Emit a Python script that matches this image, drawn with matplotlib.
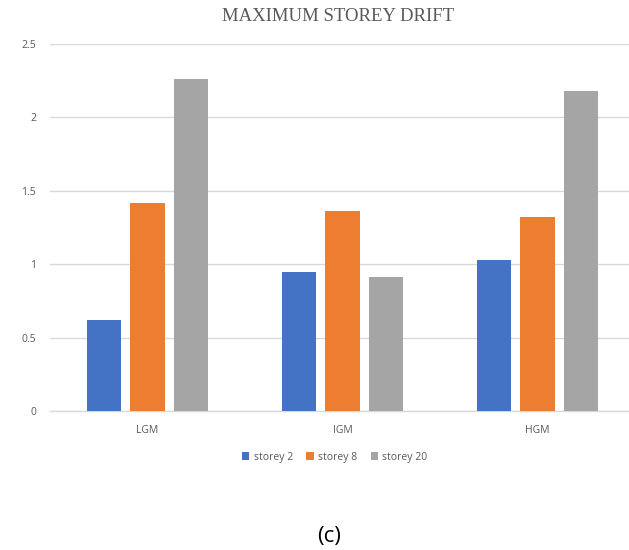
import numpy as np
import matplotlib
matplotlib.use("Agg")
import matplotlib.pyplot as plt
from matplotlib.patches import Patch

categories = ["LGM", "IGM", "HGM"]
series_names = ["storey 2", "storey 8", "storey 20"]
storey_2 = [0.62, 0.95, 1.03]
storey_8 = [1.415, 1.36, 1.32]
storey_20 = [2.26, 0.91, 2.18]
y_ticks = [0, 0.5, 1, 1.5, 2, 2.5]
y_tick_labels = ["0", "0.5", "1", "1.5", "2", "2.5"]

colors = ["#4472C4", "#ED7D31", "#A5A5A5"]
text_gray = "#595959"
grid_gray = "#D9D9D9"

fig = plt.figure(figsize=(6.29, 5.50), dpi=100)
ax = fig.add_axes([0.0795, 0.2527, 0.930, 0.6673])

x = np.arange(len(categories))
bar_w = 0.176
step = 0.223
for i, (vals, col) in enumerate(zip([storey_2, storey_8, storey_20], colors)):
    ax.bar(x + (i - 1) * step, vals, width=bar_w, color=col, zorder=3)

ax.set_xlim(-0.5, 2.5)
ax.set_ylim(0, 2.5)
ax.set_yticks(y_ticks)
ax.set_yticklabels(y_tick_labels)
ax.set_xticks(x)
ax.set_xticklabels(categories)
ax.tick_params(axis="both", length=0, colors=text_gray, labelsize=7.5)
ax.tick_params(axis="y", pad=10)
ax.tick_params(axis="x", pad=10)
for lbl in ax.get_xticklabels() + ax.get_yticklabels():
    lbl.set_fontfamily("Open Sans")
ax.grid(axis="y", color=grid_gray, linewidth=1.0, zorder=0)
for side in ["top", "right", "left"]:
    ax.spines[side].set_visible(False)
ax.spines["bottom"].set_color(grid_gray)
ax.spines["bottom"].set_linewidth(1.0)

fig.text(0.537, 0.970, "MAXIMUM STOREY DRIFT", ha="center", va="center",
         fontsize=13.5, color=text_gray, family="Liberation Serif")

handles = [Patch(facecolor=c, edgecolor="none") for c in colors]
fig.legend(handles, series_names, loc="center", bbox_to_anchor=(0.532, 0.169),
           ncol=3, frameon=False, handlelength=0.7, handleheight=0.7,
           handletextpad=0.4, columnspacing=1.3,
           prop={"family": "Open Sans", "size": 7.5}, labelcolor=text_gray)

fig.text(0.523, 0.025, "(c)", ha="center", va="center", fontsize=16,
         color="#000000", family="Open Sans")

fig.savefig("out.png", dpi=100)
